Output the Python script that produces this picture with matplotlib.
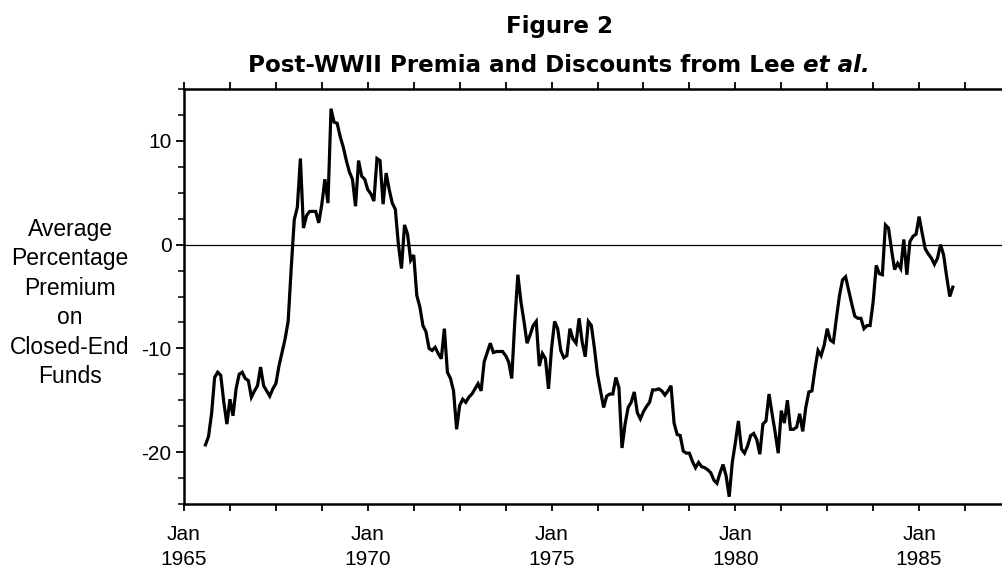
import numpy as np
import pandas as pd
import matplotlib
matplotlib.use("Agg")
import matplotlib.pyplot as plt
from matplotlib.ticker import MultipleLocator, FuncFormatter

# average percentage premium, monthly
START_MONTH = "1965-08"
PREMIUM = [
    -19.3, -18.5, -16.3, -12.8, -12.3, -12.6, -15.2, -17.3, -14.9, -16.5,
    -13.9, -12.5, -12.3, -12.9, -13.1, -14.7, -14.1, -13.6, -11.8, -13.6,
    -14.1, -14.6, -13.9, -13.4, -11.7, -10.4, -9.1, -7.4, -2.3, 2.4,
    3.6, 8.3, 1.6, 2.8, 3.2, 3.2, 3.2, 2.1, 3.9, 6.3,
    4.0, 13.1, 11.8, 11.7, 10.4, 9.4, 8.1, 7.0, 6.3, 3.7,
    8.1, 6.6, 6.3, 5.3, 4.9, 4.2, 8.3, 8.1, 3.9, 6.9,
    5.3, 4.0, 3.4, 0.0, -2.3, 1.9, 1.0, -1.5, -1.0, -4.9,
    -6.0, -7.8, -8.4, -10.0, -10.2, -9.9, -10.5, -11.0, -8.1, -12.3,
    -12.9, -14.1, -17.8, -15.5, -14.9, -15.2, -14.7, -14.4, -13.9, -13.4,
    -14.1, -11.3, -10.4, -9.5, -10.4, -10.3, -10.3, -10.3, -10.7, -11.3,
    -12.9, -7.4, -2.9, -5.5, -7.4, -9.5, -8.7, -7.8, -7.4, -11.7,
    -10.5, -11.0, -13.9, -10.0, -7.4, -8.1, -10.2, -10.9, -10.7, -8.1,
    -9.1, -9.5, -7.1, -9.4, -10.8, -7.4, -7.8, -10.0, -12.5, -14.1,
    -15.7, -14.6, -14.4, -14.4, -12.8, -13.8, -19.6, -17.3, -15.7, -15.2,
    -14.2, -16.2, -16.8, -16.1, -15.6, -15.2, -14.0, -14.0, -13.9, -14.1,
    -14.5, -14.1, -13.6, -17.2, -18.3, -18.4, -19.9, -20.1, -20.1, -20.9,
    -21.5, -21.0, -21.4, -21.5, -21.7, -22.0, -22.7, -23.0, -22.0, -21.2,
    -22.3, -24.3, -21.0, -19.1, -17.0, -19.7, -20.1, -19.4, -18.4, -18.2,
    -18.8, -20.2, -17.3, -17.0, -14.4, -16.3, -18.1, -20.1, -16.0, -17.2,
    -15.0, -17.8, -17.8, -17.6, -16.3, -18.0, -15.7, -14.2, -14.1, -12.0,
    -10.2, -10.7, -9.7, -8.1, -9.2, -9.4, -7.1, -4.9, -3.4, -3.1,
    -4.4, -5.7, -6.9, -7.1, -7.1, -8.1, -7.8, -7.8, -5.5, -2.0,
    -2.8, -2.9, 1.9, 1.6, -0.5, -2.4, -1.8, -2.3, 0.5, -2.9,
    0.3, 0.8, 1.0, 2.7, 1.1, -0.4, -0.9, -1.3, -1.9, -1.3,
    0.0, -1.0, -3.1, -5.0, -4.1,
]

TICK_FONT = "Liberation Sans"
TITLE_FONT = "DejaVu Sans"

months = pd.period_range(START_MONTH, periods=len(PREMIUM), freq="M")
month_idx = (months.year - 1965) * 12 + months.month - 1

fig = plt.figure(figsize=(10.02, 5.69), dpi=100)
ax = fig.add_axes([184 / 1002, 1 - 504 / 569, 827 / 1002, 415 / 569])

ax.plot(month_idx, PREMIUM, color="black", linewidth=2.3, solid_joinstyle="miter")
ax.axhline(0, color="black", linewidth=0.9)

ax.set_xlim(0, 270)
ax.set_ylim(-25, 15)

ax.spines["right"].set_visible(False)
for side in ("left", "top", "bottom"):
    ax.spines[side].set_linewidth(1.8)

ax.xaxis.set_major_locator(MultipleLocator(15))
def jan_label(v, pos):
    m = int(round(v))
    if m % 60 == 0:
        return f"Jan\n{1965 + m // 12}"
    return ""
ax.xaxis.set_major_formatter(FuncFormatter(jan_label))
ax.tick_params(axis="x", which="major", direction="out", length=5, width=1.3,
               top=True, bottom=True, labelsize=15, pad=10)
for lbl in ax.get_xticklabels():
    lbl.set_fontfamily(TICK_FONT)
    lbl.set_linespacing(1.4)

ax.yaxis.set_major_locator(MultipleLocator(10))
ax.yaxis.set_minor_locator(MultipleLocator(2.5))
ax.yaxis.set_major_formatter(FuncFormatter(lambda v, p: f"{int(v)}"))
ax.tick_params(axis="y", which="major", direction="out", length=6, width=1.3,
               labelsize=15, pad=3)
ax.tick_params(axis="y", which="minor", direction="out", length=4, width=1.1)
for lbl in ax.get_yticklabels():
    lbl.set_fontfamily(TICK_FONT)

fig.text(70 / 1002, 1 - 303 / 569,
         "Average\nPercentage\nPremium\non\nClosed-End\nFunds",
         ha="center", va="center", multialignment="center",
         fontsize=16.5, family=TICK_FONT, linespacing=1.36)

fig.text(560 / 1002, 1 - 33 / 569, "Figure 2", ha="center", va="baseline",
         fontsize=16.6, family=TITLE_FONT, fontweight="bold")
sub = fig.text(248 / 1002, 1 - 72 / 569, "Post-WWII Premia and Discounts from Lee ",
               ha="left", va="baseline", fontsize=16.6, family=TITLE_FONT,
               fontweight="bold")
ax.annotate("et al.", xy=(1, 0), xycoords=sub, ha="left", va="bottom",
            fontsize=16.6, family=TITLE_FONT, fontweight="bold", style="italic",
            annotation_clip=False)

fig.savefig("out.png", dpi=100)
